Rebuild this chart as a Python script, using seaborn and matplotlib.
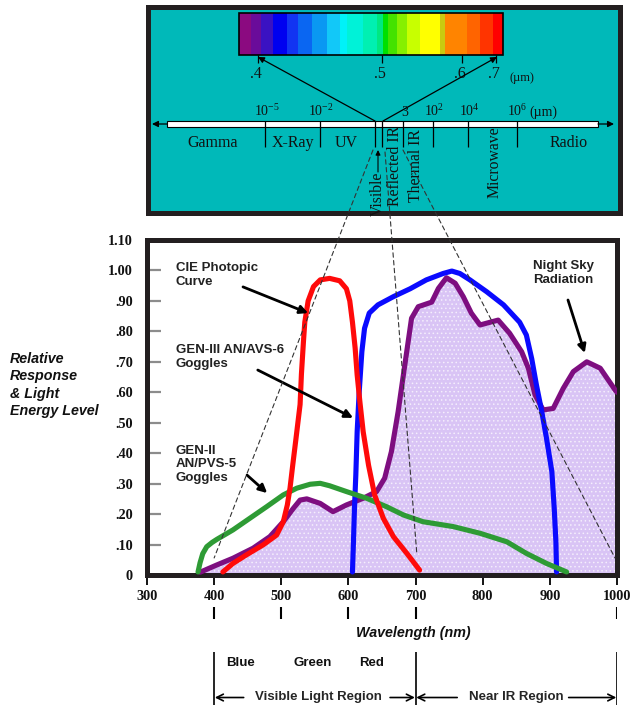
import numpy as np
import matplotlib
matplotlib.use("Agg")
import matplotlib.pyplot as plt
import seaborn as sns
from matplotlib.patches import Rectangle, ConnectionPatch

# ---- curve data (wavelength nm, relative level) ----
cie_nm = [413, 428, 448, 473, 493, 503, 509, 513, 517, 522, 528, 530, 533, 535, 540, 548, 558,
          572, 587, 597, 602, 606, 610, 613, 617, 622, 630, 639, 652, 667, 687, 706]
cie_val = [0.01, 0.038, 0.066, 0.099, 0.131, 0.175, 0.23, 0.285, 0.36, 0.45, 0.56, 0.66, 0.766, 0.83, 0.90, 0.947, 0.969,
           0.974, 0.966, 0.94, 0.90, 0.83, 0.745, 0.657, 0.57, 0.47, 0.36, 0.263, 0.186, 0.126, 0.071, 0.016]

gen3_nm = [606, 607.5, 609, 611, 613, 616, 620, 624, 631, 644, 667, 692, 716, 741, 754, 766, 781,
           806, 831, 855, 865, 873, 880, 888, 895, 903, 906.5, 909, 910]
gen3_val = [0.01, 0.109, 0.219, 0.328, 0.47, 0.60, 0.733, 0.81, 0.86, 0.887, 0.914, 0.94, 0.969, 0.99, 0.998, 0.99, 0.969,
            0.93, 0.887, 0.83, 0.788, 0.71, 0.624, 0.536, 0.449, 0.339, 0.219, 0.109, 0.01]

gen2_nm = [376, 379, 383, 389, 397, 404, 428, 453, 478, 503, 523, 543, 558, 572, 597, 627, 657, 682, 711,
           756, 796, 836, 865, 895, 925]
gen2_val = [0.01, 0.04, 0.07, 0.093, 0.107, 0.117, 0.148, 0.186, 0.224, 0.263, 0.285, 0.298, 0.301, 0.293, 0.274, 0.252, 0.224, 0.197, 0.175,
            0.159, 0.137, 0.109, 0.071, 0.038, 0.01]

sky_nm = [379, 404, 428, 458, 483, 503, 518, 528, 538, 550, 558, 577, 597, 622, 642, 654, 664, 674, 684, 694, 704,
          724, 734, 746, 759, 771, 783, 796, 823, 840, 858, 868, 878, 890, 905, 920, 935, 955, 975, 997, 1000]
sky_val = [0.009, 0.033, 0.055, 0.088, 0.126, 0.175, 0.219, 0.246, 0.25, 0.241, 0.235, 0.208, 0.23, 0.252, 0.274, 0.318, 0.405,
           0.536, 0.69, 0.843, 0.881, 0.896, 0.941, 0.976, 0.958, 0.914, 0.86, 0.821, 0.837, 0.794, 0.733, 0.679, 0.591,
           0.542, 0.547, 0.613, 0.668, 0.70, 0.679, 0.608, 0.60]

x_ticks = [300, 400, 500, 600, 700, 800, 900, 1000]
y_ticks = [0, 0.1, 0.2, 0.3, 0.4, 0.5, 0.6, 0.7, 0.8, 0.9, 1.0, 1.1]
y_tick_labels = ["0", ".10", ".20", ".30", ".40", ".50", ".60", ".70", ".80", ".90", "1.00", "1.10"]

guide_ticks = [400, 500, 600, 700, 1000]
region_edges = [400, 700, 1000]
color_names = ["Blue", "Green", "Red"]
color_name_nm = [440, 547, 634]

# ---- spectrum diagram content ----
band_colors = ["#8B0A80", "#6A0C9A", "#3A12C2", "#0000F0", "#1234F2", "#0A66F2", "#0A98F2", "#12C8F8",
               "#00F2F8", "#00F2D8", "#00F0B2", "#00E882", "#00E000", "#44E200", "#86F000", "#C8FF00",
               "#FFFF00", "#CACA10", "#FF8400", "#FF6400", "#FF3400", "#FF0000"]
vis_labels = [".4", ".5", ".6", ".7"]
em_top_labels = ["10$^{-5}$", "10$^{-2}$", "3", "10$^{2}$", "10$^{4}$", "10$^{6}$", "(\u00b5m)"]
em_low_labels = ["Gamma", "X-Ray", "UV", "Radio"]
em_rot_labels = ["Visible", "Reflected IR", "Thermal IR", "Microwave"]

# ---- layout of the schematic panel (reference pixel coords) ----
band_edges = [239, 251, 261, 273, 287, 298, 312, 327, 340, 347, 363, 377, 383, 388, 397, 407, 420,
              440, 445, 467, 480, 493, 503]
vis_tick_px = [258, 382, 462, 496]
em_div_px = [265, 320, 375, 382, 403, 433, 468, 517]
em_top_px = [267, 321, 405, 434, 469, 517, 543]
em_low_px = [213, 293, 346, 569]
em_rot_px = [(378, 194), (395, 166), (416, 166), (495, 162)]

sns.set_theme(style="white")
plt.rcParams["font.family"] = ["Liberation Sans", "DejaVu Sans"]
plt.rcParams["mathtext.default"] = "regular"
plt.rcParams["hatch.linewidth"] = 0.6
plt.rcParams["hatch.color"] = "#F4EEFC"

W, H = 636, 705
fig = plt.figure(figsize=(W / 100, H / 100), dpi=100)


def frect(x0, y0, x1, y1):
    return [x0 / W, 1 - y1 / H, (x1 - x0) / W, (y1 - y0) / H]


ax = fig.add_axes(frect(147, 240, 617, 575))
ax_bot = fig.add_axes(frect(147, 598, 617, 705), sharex=ax)
ax_top = fig.add_axes(frect(148, 7, 620, 213))
frame_col = "#231F20"
serif = "Liberation Serif"

# ---- main chart ----
ax.fill_between(sky_nm, sky_val, 0, facecolor="#D9C4F5", edgecolor="#F4EEFC", hatch="....", linewidth=0, zorder=1)
lw = 3.7
sns.lineplot(x=sky_nm, y=sky_val, ax=ax, color="#7E0E80", lw=lw, zorder=3, solid_joinstyle="round")
sns.lineplot(x=gen3_nm, y=gen3_val, ax=ax, color="#0A0AFF", lw=lw, zorder=4, solid_joinstyle="round")
sns.lineplot(x=gen2_nm, y=gen2_val, ax=ax, color="#2E9B35", lw=lw, zorder=5, solid_joinstyle="round")
sns.lineplot(x=cie_nm, y=cie_val, ax=ax, color="#FF0A0A", lw=lw, zorder=6, solid_joinstyle="round")

ax.set_xlim(300, 1000)
ax.set_ylim(0, 1.10)
ax.set_xticks(x_ticks)
ax.set_xticklabels([str(t) for t in x_ticks])
ax.set_yticks(y_ticks)
ax.set_yticklabels(y_tick_labels)
ax.set_xlabel("")
ax.set_ylabel("")
ax.tick_params(axis="y", direction="in", length=10, width=1.6, color="#8C8C8C", pad=10, left=True)
ax.tick_params(axis="x", direction="out", length=7.5, width=1.3, color="black", pad=3, bottom=True)
for lab in ax.get_xticklabels() + ax.get_yticklabels():
    lab.set_fontfamily(serif)
    lab.set_fontweight("bold")
    lab.set_fontsize(10.3)
    lab.set_color("#111111")
for s in ax.spines.values():
    s.set_linewidth(3.6)
    s.set_color(frame_col)
    s.set_visible(True)

txt = dict(fontsize=9.5, fontweight="bold", color="#222222", linespacing=1.2)
arw = dict(arrowstyle="-|>", lw=2, color="black", mutation_scale=12, shrinkA=0, shrinkB=0)
ax.text(343, 1.028, "CIE Photopic\nCurve", ha="left", va="top", **txt)
ax.annotate("", xy=(540, 0.86), xytext=(443, 0.946), arrowprops=arw, zorder=7)
ax.text(343, 0.757, "GEN-III AN/AVS-6\nGoggles", ha="left", va="top", **txt)
ax.annotate("", xy=(607, 0.516), xytext=(465, 0.673), arrowprops=arw, zorder=7)
ax.text(343, 0.428, "GEN-II\nAN/PVS-5\nGoggles", ha="left", va="top", **txt)
ax.annotate("", xy=(479, 0.269), xytext=(449, 0.328), arrowprops=arw, zorder=7)
ax.text(920, 1.035, "Night Sky\nRadiation", ha="center", va="top", **txt)
ax.annotate("", xy=(952, 0.729), xytext=(927, 0.903), arrowprops=arw, zorder=7)

fig.text(10 / W, 1 - 385 / H, "Relative\nResponse\n& Light\nEnergy Level", ha="left", va="center",
         fontsize=10.3, fontweight="bold", style="italic", linespacing=1.3, color="#111111")

# ---- guide below the axis ----
ax_bot.axis("off")
ax_bot.set_ylim(0, 1)
ax_bot.vlines(guide_ticks, 0.80, 0.92, color="black", lw=1.5)
ax_bot.vlines(region_edges, 0, 0.50, color="black", lw=1.2)
ax_bot.text(696, 0.67, "Wavelength (nm)", ha="center", va="center", fontsize=10.3,
            fontweight="bold", style="italic", color="#111111")
for name, xn in zip(color_names, color_name_nm):
    ax_bot.text(xn, 0.39, name, ha="center", va="center", fontsize=9.5, fontweight="bold", color="#111111")
ax_bot.text(555, 0.075, "Visible Light Region", ha="center", va="center", fontsize=9.5, fontweight="bold")
ax_bot.text(850, 0.075, "Near IR Region", ha="center", va="center", fontsize=9.5, fontweight="bold")
rarw = dict(arrowstyle="->", lw=1.2, color="black", mutation_scale=12, shrinkA=0, shrinkB=0)
for x_from, x_to in [(444, 401), (662, 699), (762, 701), (928, 999)]:
    ax_bot.annotate("", xy=(x_to, 0.07), xytext=(x_from, 0.07), arrowprops=rarw)

# ---- electromagnetic spectrum panel ----
ax_top.set_xlim(148, 620)
ax_top.set_ylim(213, 7)
ax_top.set_facecolor("#00B9B9")
ax_top.set_xticks([])
ax_top.set_yticks([])
for s in ax_top.spines.values():
    s.set_linewidth(3.6)
    s.set_color(frame_col)
    s.set_visible(True)

ax_top.barh(34, np.diff(band_edges), left=band_edges[:-1], height=42, color=band_colors, linewidth=0)
ax_top.add_patch(Rectangle((band_edges[0], 13), band_edges[-1] - band_edges[0], 42,
                           fill=False, edgecolor="black", lw=1.2))
ax_top.vlines(vis_tick_px, 55, 63, color="black", lw=0.9)
for lab, xp in zip(vis_labels, vis_tick_px):
    ax_top.text(xp - 2, 74, lab, ha="center", va="center", fontsize=11.5, family=serif, color="#111111")
ax_top.text(522, 78, "(\u00b5m)", ha="center", va="center", fontsize=9, family=serif, color="#111111")

sarw = dict(arrowstyle="-|>", lw=0.9, color="black", mutation_scale=9, shrinkA=0, shrinkB=0)
ax_top.annotate("", xy=(vis_tick_px[0], 57), xytext=(375, 121), arrowprops=sarw)
ax_top.annotate("", xy=(vis_tick_px[-1] + 1, 57), xytext=(383, 121), arrowprops=sarw)

ax_top.add_patch(Rectangle((167, 121), 431, 6, facecolor="white", edgecolor="black", lw=0.8))
ax_top.annotate("", xy=(152, 124), xytext=(167, 124), arrowprops=sarw)
ax_top.annotate("", xy=(614, 124), xytext=(598, 124), arrowprops=sarw)
ax_top.vlines(em_div_px, 121, 147, color="black", lw=0.9)

for lab, xp in zip(em_top_labels, em_top_px):
    ax_top.text(xp, 119, lab, ha="center", va="bottom", fontsize=10, family=serif, color="#111111")
for lab, xp in zip(em_low_labels, em_low_px):
    ax_top.text(xp, 143, lab, ha="center", va="center", fontsize=11.5, family=serif, color="#111111")
for lab, (xp, yp) in zip(em_rot_labels, em_rot_px):
    ax_top.text(xp, yp, lab, ha="center", va="center", rotation=90, fontsize=11.3, family=serif, color="#111111")
ax_top.annotate("", xy=(378, 150), xytext=(378, 172),
                arrowprops=dict(arrowstyle="-|>", lw=0.8, color="black", mutation_scale=7, shrinkA=0, shrinkB=0))

# ---- dashed projection lines from the spectrum to the chart ----
for top_pt, bot_pt in [((373, 150), (400, 0.056)), ((385, 152), (702, 0.066)), ((403, 150), (997, 0.056))]:
    cp = ConnectionPatch(xyA=top_pt, coordsA=ax_top.transData, xyB=bot_pt, coordsB=ax.transData,
                         ls=(0, (4, 3)), lw=0.8, color="#333333", zorder=8)
    fig.add_artist(cp)

fig.savefig("out.png", dpi=100)
